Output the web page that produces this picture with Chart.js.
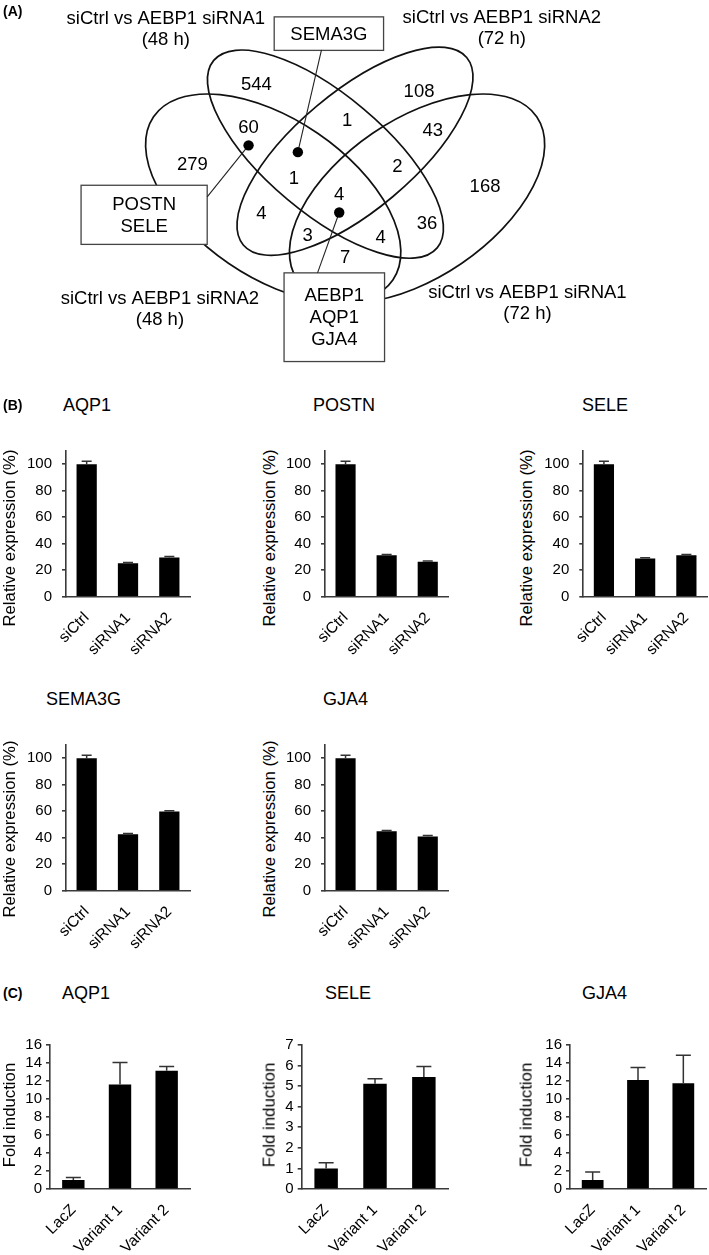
<!DOCTYPE html>
<html><head><meta charset="utf-8">
<script src="https://cdn.jsdelivr.net/npm/chart.js@4.4.0/dist/chart.umd.min.js"></script>
<style>
html,body{margin:0;padding:0;background:#fff;}
#fig{position:relative;width:709px;height:1255px;overflow:hidden;font-family:"Liberation Sans",Arial,sans-serif;color:#000;}
#fig canvas{position:absolute;}
.t{position:absolute;white-space:nowrap;line-height:1;}
.panel{font-weight:bold;font-size:14px;transform:translateY(-50%);}
.title{font-size:18px;transform:translateY(-50%);}
.ytitle{font-size:16.8px;transform:translate(-50%,-50%) rotate(-90deg);}
</style></head><body><div id="fig"></div>
<script>
// ---------------- DATA ----------------
// (A) Venn diagram
const vennSetLabels = [
  ['siCtrl vs AEBP1 siRNA1', '(48 h)'],
  ['siCtrl vs AEBP1 siRNA2', '(72 h)'],
  ['siCtrl vs AEBP1 siRNA2', '(48 h)'],
  ['siCtrl vs AEBP1 siRNA1', '(72 h)']
];
const vennCounts = [544, 108, 1, 60, 43, 279, 1, 2, 168, 4, 4, 36, 3, 4, 7];
const vennGeneBoxes = [['SEMA3G'], ['POSTN', 'SELE'], ['AEBP1', 'AQP1', 'GJA4']];

// (B) knockdown, relative expression (%)
const siCategories = ['siCtrl', 'siRNA1', 'siRNA2'];
const relTicks = [0, 20, 40, 60, 80, 100];
const aqp1Rel = [100, 25.2, 29.6];
const aqp1RelErr = [2.3, 0.6, 0.7];
const postnRel = [100, 31.3, 26.3];
const postnRelErr = [2.3, 0.6, 0.6];
const seleRel = [100, 28.9, 31.3];
const seleRelErr = [2.3, 0.6, 0.6];
const sema3gRel = [100, 42.6, 59.7];
const sema3gRelErr = [2.3, 0.5, 0.6];
const gja4Rel = [100, 44.8, 41.0];
const gja4RelErr = [2.3, 0.6, 0.6];

// (C) overexpression, fold induction
const ovxCategories = ['LacZ', 'Variant 1', 'Variant 2'];
const foldTicks16 = [0, 2, 4, 6, 8, 10, 12, 14, 16];
const foldTicks7 = [0, 1, 2, 3, 4, 5, 6, 7];
const aqp1Fold = [1.0, 11.6, 13.15];
const aqp1FoldErr = [0.28, 2.45, 0.45];
const seleFold = [1.0, 5.12, 5.44];
const seleFoldErr = [0.27, 0.24, 0.52];
const gja4Fold = [1.0, 12.1, 11.75];
const gja4FoldErr = [0.89, 1.4, 3.1];

// ---------------- LAYOUT ----------------
const FONT = '"Liberation Sans", Arial, sans-serif';
const AXIS = '#3a3a3a';
const fig = document.getElementById('fig');
Chart.defaults.font.family = FONT;

const VENN = {
  size: [709, 390],
  ellipses: [
    {cx: 325, cy: 153, a: 148, b: 60, rot: 40},
    {cx: 355, cy: 150, a: 148, b: 60, rot: -40},
    {cx: 272, cy: 198.5, a: 147, b: 80, rot: 34.3},
    {cx: 418, cy: 198.5, a: 147, b: 80, rot: -34.3}
  ],
  setLabelPos: [[163, 12], [504, 11], [157, 300], [530, 294]],
  countPos: [[255, 80], [420, 87], [347, 117], [247, 124], [434, 128], [190, 163], [293, 177], [398, 165],
             [487, 185], [339, 193], [260, 213], [428, 223], [307, 235], [381, 238], [345, 258]],
  boxes: [{x: 273, y: 12, w: 111, h: 34}, {x: 77, y: 185, w: 128, h: 60}, {x: 283, y: 275, w: 102, h: 90}],
  dots: [[297, 151], [247, 144], [339, 213]],
  leaderEnds: [[321, 46], [205, 197], [317, 275]],
  fontSize: 18.5, lineGap: 22.5
};

function addText(cls, txt, x, y) {
  const d = document.createElement('div');
  d.className = 't ' + cls;
  d.textContent = txt;
  d.style.left = x + 'px';
  d.style.top = y + 'px';
  fig.appendChild(d);
}
function addCanvas(x, y, w, h) {
  const c = document.createElement('canvas');
  c.width = w; c.height = h;
  c.style.left = x + 'px'; c.style.top = y + 'px';
  c.style.width = w + 'px'; c.style.height = h + 'px';
  fig.appendChild(c);
  return c;
}

// ---------------- VENN ----------------
const vennPlugin = {
  id: 'vennDraw',
  beforeDatasetsDraw(chart) {
    const {ctx, scales: {x, y}} = chart;
    const px = v => x.getPixelForValue(v), py = v => y.getPixelForValue(v);
    const len = d => Math.abs(px(d) - px(0));
    ctx.save();
    ctx.strokeStyle = '#111';
    ctx.lineWidth = 1.7;
    VENN.ellipses.forEach(e => {
      ctx.beginPath();
      ctx.ellipse(px(e.cx), py(e.cy), len(e.a), len(e.b), e.rot * Math.PI / 180, 0, Math.PI * 2);
      ctx.stroke();
    });
    // gene boxes
    ctx.lineWidth = 1.3;
    ctx.strokeStyle = '#444';
    VENN.boxes.forEach((b, i) => {
      const x0 = px(b.x), y0 = py(b.y), w = len(b.w), h = len(b.h);
      ctx.fillStyle = '#fff';
      ctx.fillRect(x0, y0, w, h);
      ctx.strokeRect(x0, y0, w, h);
      ctx.fillStyle = '#000';
      ctx.font = VENN.fontSize + 'px ' + FONT;
      ctx.textAlign = 'center';
      ctx.textBaseline = 'alphabetic';
      const lines = vennGeneBoxes[i];
      const cy = b.y + b.h / 2;
      lines.forEach((t, k) => {
        const ly = cy + (k - (lines.length - 1) / 2) * VENN.lineGap;
        ctx.fillText(t, px(b.x + b.w / 2), py(ly) + 0.358 * VENN.fontSize);
      });
    });
    // leader lines
    ctx.strokeStyle = '#222';
    ctx.lineWidth = 1.1;
    VENN.dots.forEach((d, i) => {
      const e = VENN.leaderEnds[i];
      ctx.beginPath();
      ctx.moveTo(px(d[0]), py(d[1]));
      ctx.lineTo(px(e[0]), py(e[1]));
      ctx.stroke();
    });
    ctx.restore();
  },
  afterDatasetsDraw(chart) {
    const {ctx, scales: {x, y}} = chart;
    const px = v => x.getPixelForValue(v), py = v => y.getPixelForValue(v);
    const fs = VENN.fontSize;
    ctx.save();
    ctx.fillStyle = '#000';
    ctx.font = fs + 'px ' + FONT;
    ctx.textAlign = 'center';
    ctx.textBaseline = 'alphabetic';
    vennCounts.forEach((n, i) => {
      const p = VENN.countPos[i];
      ctx.fillText(String(n), px(p[0]), py(p[1]) + 0.358 * fs);
    });
    vennSetLabels.forEach((lines, i) => {
      const p = VENN.setLabelPos[i];
      lines.forEach((t, k) => {
        ctx.fillText(t, px(p[0]), py(p[1] + k * 22) + 0.358 * fs);
      });
    });
    ctx.restore();
  }
};

const vc = addCanvas(0, 0, VENN.size[0], VENN.size[1]);
new Chart(vc, {
  type: 'scatter',
  data: {datasets: [{
    data: VENN.dots.map(d => ({x: d[0], y: d[1]})),
    pointRadius: 5.2, pointBackgroundColor: '#000', pointBorderWidth: 0
  }]},
  options: {
    responsive: false, animation: false, devicePixelRatio: 1,
    layout: {padding: 0},
    plugins: {legend: {display: false}, tooltip: {enabled: false}},
    scales: {
      x: {type: 'linear', min: 0, max: VENN.size[0], display: false},
      y: {type: 'linear', min: 0, max: VENN.size[1], reverse: true, display: false}
    }
  },
  plugins: [vennPlugin]
});

// ---------------- BAR CHARTS ----------------
const errorBarPlugin = {
  id: 'errorBars',
  afterDatasetsDraw(chart, args, opts) {
    const {ctx} = chart;
    const ys = chart.scales.y;
    chart.data.datasets.forEach((ds, di) => {
      const meta = chart.getDatasetMeta(di);
      meta.data.forEach((el, i) => {
        const top = ys.getPixelForValue(ds.data[i] + ds.errors[i]);
        ctx.save();
        ctx.strokeStyle = '#333';
        ctx.lineWidth = 1.5;
        ctx.beginPath();
        ctx.moveTo(el.x, el.y);
        ctx.lineTo(el.x, top);
        ctx.moveTo(el.x - opts.capWidth / 2, top);
        ctx.lineTo(el.x + opts.capWidth / 2, top);
        ctx.stroke();
        ctx.restore();
      });
    });
  }
};

function makeBar(cfg) {
  const [bx, by, bw, bh] = cfg.box;
  const c = addCanvas(bx, by, bw, bh);
  new Chart(c, {
    type: 'bar',
    data: {labels: cfg.labels, datasets: [{
      data: cfg.values, errors: cfg.errors, backgroundColor: '#000', borderWidth: 0,
      barPercentage: cfg.barPct, categoryPercentage: 1
    }]},
    options: {
      responsive: false, animation: false, devicePixelRatio: 1,
      layout: {padding: {left: 0, bottom: 0, top: cfg.axisTop - by, right: bx + bw - cfg.axisRight}},
      plugins: {legend: {display: false}, tooltip: {enabled: false}, errorBars: {capWidth: cfg.cap}},
      scales: {
        x: {
          grid: {display: false},
          border: {display: true, color: AXIS, width: 1.6},
          ticks: {font: {family: FONT, size: 15.5}, color: '#000', minRotation: 45, maxRotation: 45, autoSkip: false, padding: cfg.xPad},
          afterFit: s => { s.height = by + bh - cfg.axisBottom; }
        },
        y: {
          min: 0, max: cfg.max,
          grid: {drawOnChartArea: false, drawTicks: true, tickLength: 4, color: AXIS, lineWidth: 1.6},
          border: {display: true, color: AXIS, width: 1.6},
          ticks: {font: {family: FONT, size: 15}, color: '#000', padding: cfg.yPad, autoSkip: false},
          afterBuildTicks: s => { s.ticks = cfg.ticks.map(v => ({value: v})); },
          afterFit: s => { s.width = cfg.axisX - bx; }
        }
      }
    },
    plugins: [errorBarPlugin]
  });
}

// Panel B
const bRow1 = {axisTop: 442.7, axisBottom: 596.7, boxTop: 432, boxH: 240};
const bRow2 = {axisTop: 736, axisBottom: 890.7, boxTop: 726, boxH: 240};
const bCols = [
  {x: 20, w: 200, axisX: 66, axisRight: 190},
  {x: 280, w: 185, axisX: 325, axisRight: 448.3},
  {x: 538, w: 171, axisX: 583.3, axisRight: 707}
];
[[aqp1Rel, aqp1RelErr, bRow1, bCols[0]], [postnRel, postnRelErr, bRow1, bCols[1]], [seleRel, seleRelErr, bRow1, bCols[2]],
 [sema3gRel, sema3gRelErr, bRow2, bCols[0]], [gja4Rel, gja4RelErr, bRow2, bCols[1]]].forEach(([v, e, r, col]) => {
  makeBar({box: [col.x, r.boxTop, col.w, r.boxH], axisX: col.axisX, axisRight: col.axisRight,
    axisTop: r.axisTop, axisBottom: r.axisBottom, labels: siCategories, values: v, errors: e,
    max: 110, ticks: relTicks, barPct: 0.49, cap: 10, xPad: 4, yPad: 10});
});

// Panel C
const cRow = {axisTop: 1042.3, axisBottom: 1189, boxTop: 1032, boxH: 223};
const cCols = [
  {x: 15, w: 190, axisX: 50, axisRight: 190},
  {x: 265, w: 200, axisX: 301.7, axisRight: 448.3},
  {x: 535, w: 174, axisX: 570, axisRight: 706}
];
[[aqp1Fold, aqp1FoldErr, 16, foldTicks16, cCols[0]], [seleFold, seleFoldErr, 7, foldTicks7, cCols[1]],
 [gja4Fold, gja4FoldErr, 16, foldTicks16, cCols[2]]].forEach(([v, e, mx, tk, col]) => {
  makeBar({box: [col.x, cRow.boxTop, col.w, cRow.boxH], axisX: col.axisX, axisRight: col.axisRight,
    axisTop: cRow.axisTop, axisBottom: cRow.axisBottom, labels: ovxCategories, values: v, errors: e,
    max: mx, ticks: tk, barPct: 0.48, cap: 15, xPad: 4, yPad: 4});
});

// ---------------- TEXT ----------------
addText('panel', '(A)', 3, 11);
addText('panel', '(B)', 3, 405);
addText('panel', '(C)', 3, 993);
[['AQP1', 63, 405], ['POSTN', 313, 405], ['SELE', 582, 405], ['SEMA3G', 46, 699], ['GJA4', 323, 699],
 ['AQP1', 62, 993], ['SELE', 325, 993], ['GJA4', 582, 993]].forEach(([t, x, y]) => addText('title', t, x, y));
[[10, 538], [269.5, 538], [527, 538], [10, 829], [269.5, 829]].forEach(([x, y]) => addText('ytitle', 'Relative expression (%)', x, y));
[[10, 1114.5], [270, 1114.5], [527, 1114.5]].forEach(([x, y]) => addText('ytitle', 'Fold induction', x, y));
</script></body></html>
